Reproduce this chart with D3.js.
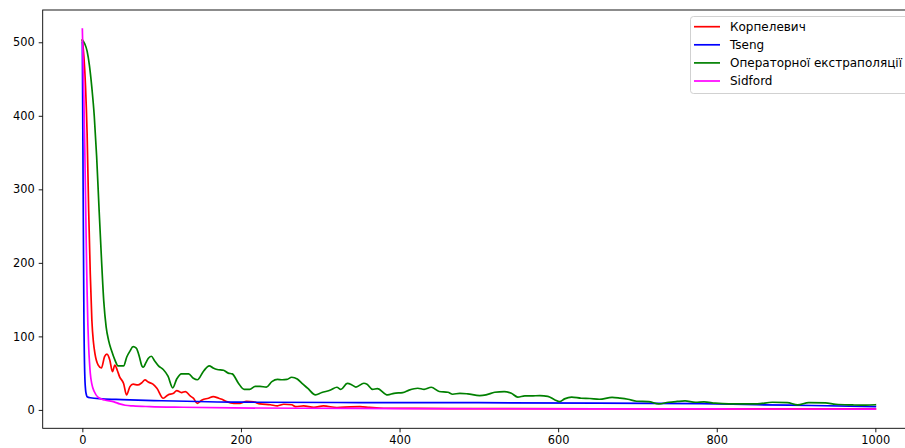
<!DOCTYPE html>
<html>
<head>
<meta charset="utf-8">
<script src="https://cdn.jsdelivr.net/npm/d3@7"></script>
<style>
  html, body { margin: 0; padding: 0; background: #fff; overflow: hidden; }
  svg { display: block; font-family: "DejaVu Sans", sans-serif; }
</style>
</head>
<body>
<svg id="chart" width="905" height="448"></svg>
<script>
// Convergence of four methods: error value per iteration, [iteration, value]
const korpelevich = [
  [0,503],[2,480],[4,440],[6,376],[8,270],[10,185],[12,122],[14,92],[16,76],[20,61],
  [24,57],[28,72.5],[31,76],[34.6,68],[38,52],[41,61],[44,54],[47,45],[52,36],[55.7,20.4],
  [60,31.7],[64,35],[70,34],[75,37],[79,40.8],[83,38],[89,35],[94,29.5],[102,15.9],[108,20.4],
  [115,22.7],[119,26.3],[125,23.6],[130,25],[136,19],[140,15.9],[145,9],[151,13.6],[159,15.9],
  [165,18],[172,15.9],[176,14.5],[182,11.3],[191,9],[199,9],[207,11.8],[216,10.9],[224,8.2],
  [237,7],[246,5.6],[254,7.7],[264,7],[269,4.5],[279,5.4],[292,3.6],[304,5.4],[321,3.2],
  [338,4.2],[350,4.5],[362,3.5],[380,2.3],[420,2],[500,1.8],[650,1.6],[800,1.4],[1000,1.3]
];
const tseng = [
  [0,500],[1,300],[2,120],[3,50],[4,28],[5,21],[6,18],[10,16.5],[25,15],[50,14],[100,12.5],
  [200,10.5],[350,10],[500,9.8],[650,9.3],[780,8.5],[850,7],[920,6],[1000,4.5]
];
const extrapolation = [
  [0,503],[3,498],[6,488],[9,468],[12,438],[15,400],[18,345],[21,275],[24,208],[27,148],
  [30,113],[33,95],[37,80],[41,68],[45,60],[52,60],[56,72],[60,80],[64,86],[68,84],[72,72],
  [75,60],[77,58],[80,64],[83,70],[87,73],[91,67],[96,60],[102,55],[108,46],[114,30],[119,42],
  [125,49],[134,49],[140,43],[145,41],[153,53],[160,60],[165,57],[170,55],[178,54],[184,50],
  [189,49],[197,36],[204,28],[211,28],[218,32],[224,32],[232,31],[239,38.5],[246,41.5],
  [252,41],[258,41.5],[264,44.4],[271,42],[277,36],[284,29.6],[294,20.4],[302,23.6],[313,27],
  [321,30.8],[326,28],[334,36],[340,34],[345,31],[355,36.3],[359,35],[366,28],[372,29],
  [385,20.4],[393,22.6],[404,23.6],[412,27],[423,29.5],[431,28],[440,30.8],[450,25],[461,24],
  [467,21.3],[476,22.6],[486,21.8],[501,19.5],[509,20.4],[520,24],[532,25],[541,22.6],
  [549,17.5],[558,19],[566,19],[577,19.5],[587,18.5],[596,13.6],[602,11.3],[608,15],
  [617,17.5],[629,15.9],[640,15.5],[652,14.5],[668,17],[678,16],[688,14.5],[699,11.8],
  [714,11.3],[727,8.2],[739,10.4],[750,11.5],[760,12.2],[773,10.4],[784,11],[798,9.2],
  [815,8.2],[836,8.2],[851,8.2],[870,10.4],[889,10],[902,6.8],[916,10],[937,9.5],[950,7.7],
  [971,6.8],[988,6.4],[1000,7]
];
const sidford = [
  [0,518],[1,470],[2,420],[3,360],[4,290],[5,220],[6,160],[7,115],[8,85],[9,65],[10,50],
  [12,35],[15,25],[20,17],[28,13.5],[40,11],[47,8.2],[54,6.3],[64,5.4],[85,4.5],[127,3.6],
  [190,2.7],[275,2.3],[400,1.8],[600,1.5],[800,1.3],[1000,1.2]
];

const seriesNames = ["Корпелевич", "Tseng", "Операторної екстраполяції", "Sidford"];
const seriesData = [korpelevich, tseng, extrapolation, sidford];
const seriesColors = ["#ff0000", "#0000ff", "#008000", "#ff00ff"];

const xTicks = [0, 200, 400, 600, 800, 1000];
const yTicks = [0, 100, 200, 300, 400, 500];

const svg = d3.select("#chart");
const plotLeft = 42.7, plotRight = 915, plotTop = 10, plotBottom = 428.3;
const fontSize = 11.4;
const legendFontSize = 12;

const x = d3.scaleLinear().domain([-50, 1050]).range([plotLeft, plotRight]);
const y = d3.scaleLinear().domain([-25, 543.9]).range([plotBottom, plotTop]);

svg.append("defs").append("clipPath").attr("id", "plotArea")
  .append("rect").attr("x", plotLeft).attr("y", plotTop)
  .attr("width", plotRight - plotLeft).attr("height", plotBottom - plotTop);

const line = d3.line()
  .x(d => x(d[0])).y(d => y(d[1]))
  .curve(d3.curveMonotoneX);

const plot = svg.append("g").attr("clip-path", "url(#plotArea)");
seriesData.forEach((data, i) => {
  plot.append("path")
    .datum(data)
    .attr("d", line)
    .attr("fill", "none")
    .attr("stroke", seriesColors[i])
    .attr("stroke-width", 1.7)
    .attr("stroke-linejoin", "round")
    .attr("stroke-linecap", "square");
});

// Axes
const xAxis = d3.axisBottom(x).tickValues(xTicks).tickSize(4).tickPadding(4)
  .tickFormat(d3.format("d"));
const yAxis = d3.axisLeft(y).tickValues(yTicks).tickSize(4).tickPadding(4)
  .tickFormat(d3.format("d"));

const gx = svg.append("g").attr("transform", `translate(0,${plotBottom})`).call(xAxis);
const gy = svg.append("g").attr("transform", `translate(${plotLeft},0)`).call(yAxis);
[gx, gy].forEach(g => {
  g.select(".domain").remove();
  g.selectAll(".tick line").attr("stroke", "#000").attr("stroke-width", 0.9);
  g.selectAll(".tick text").attr("fill", "#000").style("font-size", fontSize + "px")
    .style("font-family", "'DejaVu Sans', sans-serif");
});

// Frame
svg.append("rect")
  .attr("x", plotLeft).attr("y", plotTop)
  .attr("width", plotRight - plotLeft).attr("height", plotBottom - plotTop)
  .attr("fill", "none").attr("stroke", "#000").attr("stroke-width", 0.9);

// Legend
const legend = svg.append("g");
legend.append("rect")
  .attr("x", 690.5).attr("y", 16.5)
  .attr("width", 218).attr("height", 77)
  .attr("rx", 3).attr("ry", 3)
  .attr("fill", "#fff").attr("fill-opacity", 0.8)
  .attr("stroke", "#cccccc").attr("stroke-width", 0.9);
seriesNames.forEach((name, i) => {
  const cy = 26.7 + i * 18.1;
  legend.append("line")
    .attr("x1", 694).attr("x2", 720).attr("y1", cy).attr("y2", cy)
    .attr("stroke", seriesColors[i]).attr("stroke-width", 1.7);
  legend.append("text")
    .attr("x", 730).attr("y", cy).attr("dy", "0.35em")
    .attr("fill", "#000")
    .style("font-size", legendFontSize + "px")
    .text(name);
});
</script>
</body>
</html>
